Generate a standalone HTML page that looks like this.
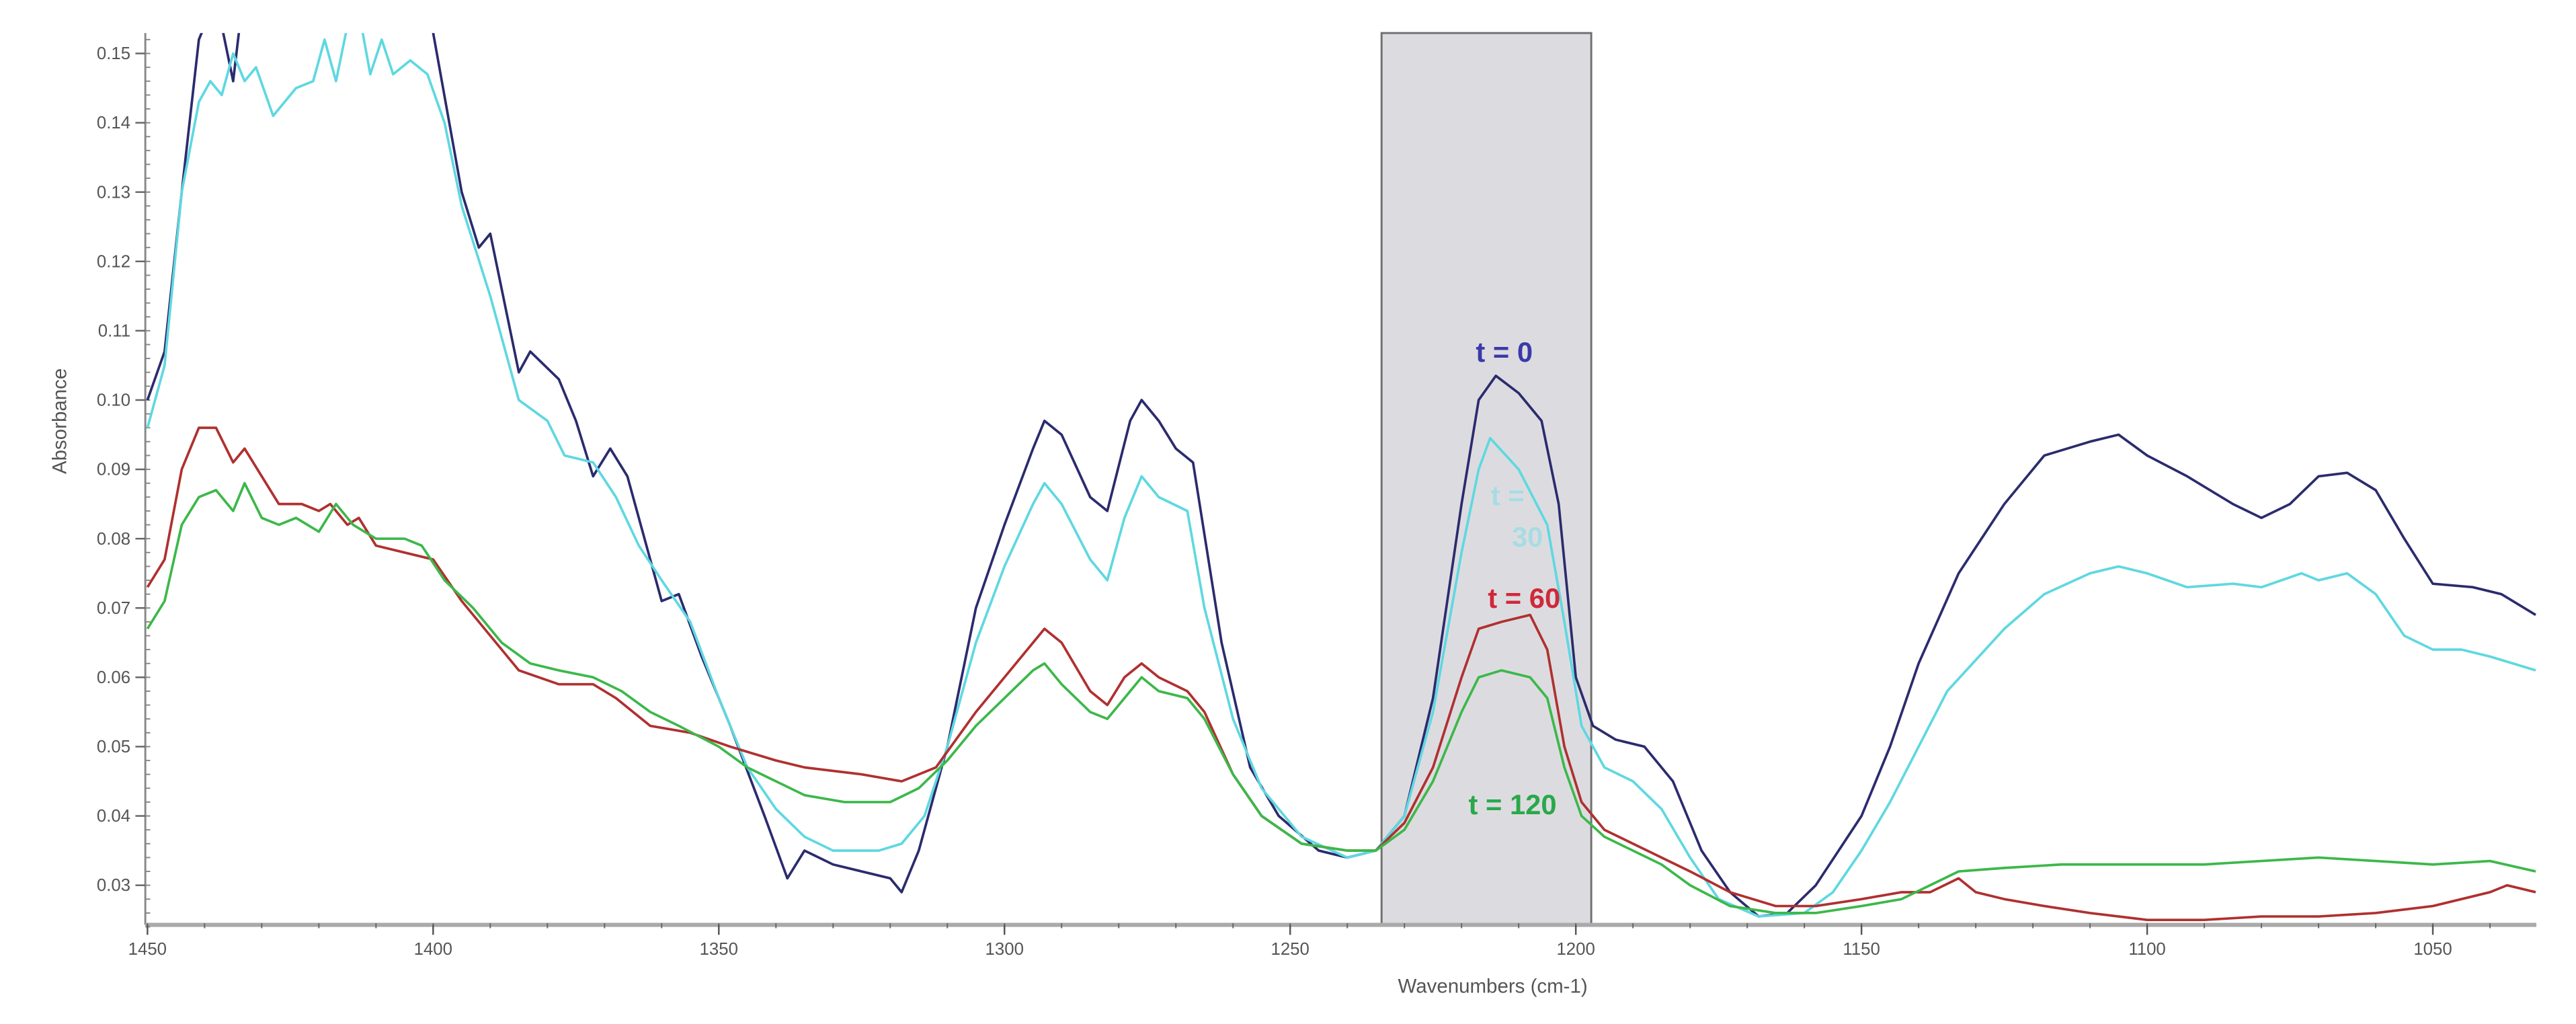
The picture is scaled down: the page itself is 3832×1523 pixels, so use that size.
<!DOCTYPE html>
<html><head><meta charset="utf-8"><style>
html,body{margin:0;padding:0;background:#fff;}
svg{display:block;}
text{font-family:"Liberation Sans",sans-serif;}
</style></head><body>
<svg id="chart" width="3832" height="1523" viewBox="0 0 1560 620" preserveAspectRatio="none" xmlns="http://www.w3.org/2000/svg">
<defs><clipPath id="plotclip"><rect x="88" y="20" width="1448" height="540"/></clipPath></defs>
<rect x="0" y="0" width="1560" height="620" fill="#fff"/>
<g id="band"></g>
<g id="axes"></g>
<g id="series" clip-path="url(#plotclip)"></g>
<g id="labels"></g>
</svg>
<script>
const xTicks=[1450,1400,1350,1300,1250,1200,1150,1100,1050];
const yTicks=[0.03,0.04,0.05,0.06,0.07,0.08,0.09,0.10,0.11,0.12,0.13,0.14,0.15];
const bandRange=[1234,1197.3];
const wn0=[1450,1447,1444,1441,1438,1435,1433,1420,1405,1400,1395,1392,1390,1387,1385,1383,1378,1375,1372,1369,1366,1362,1360,1357,1353,1348,1342,1338,1335,1330,1325,1320,1318,1315,1310,1305,1300,1295,1293,1290,1285,1282,1278,1276,1273,1270,1267,1262,1257,1252,1245,1240,1235,1230,1225,1220,1217,1214,1210,1206,1203,1200,1197,1193,1188,1183,1178,1173,1168,1163,1158,1150,1145,1140,1133,1125,1118,1110,1105,1100,1093,1085,1080,1075,1070,1065,1060,1055,1050,1043,1038,1032];
const abs0=[0.100,0.107,0.130,0.152,0.158,0.146,0.160,0.180,0.170,0.153,0.130,0.122,0.124,0.112,0.104,0.107,0.103,0.097,0.089,0.093,0.089,0.077,0.071,0.072,0.063,0.053,0.040,0.031,0.035,0.033,0.032,0.031,0.029,0.035,0.050,0.070,0.082,0.093,0.097,0.095,0.086,0.084,0.097,0.100,0.097,0.093,0.091,0.065,0.047,0.040,0.035,0.034,0.035,0.040,0.057,0.085,0.100,0.1035,0.101,0.097,0.085,0.060,0.053,0.051,0.050,0.045,0.035,0.029,0.0255,0.026,0.030,0.040,0.050,0.062,0.075,0.085,0.092,0.094,0.095,0.092,0.089,0.085,0.083,0.085,0.089,0.0895,0.087,0.080,0.0735,0.073,0.072,0.069];
const wn30=[1450,1447,1444,1441,1439,1437,1435,1433,1431,1428,1424,1421,1419,1417,1415,1413,1411,1409,1407,1404,1401,1398,1395,1390,1385,1380,1377,1372,1368,1364,1360,1355,1350,1345,1340,1335,1330,1322,1318,1314,1310,1305,1300,1295,1293,1290,1285,1282,1279,1276,1273,1268,1265,1260,1255,1248,1240,1235,1230,1225,1220,1217,1215,1210,1205,1202,1199,1195,1190,1185,1180,1175,1168,1160,1155,1150,1145,1140,1135,1125,1118,1110,1105,1100,1093,1085,1080,1073,1070,1065,1060,1055,1050,1045,1040,1032];
const abs30=[0.096,0.105,0.130,0.143,0.146,0.144,0.150,0.146,0.148,0.141,0.145,0.146,0.152,0.146,0.154,0.156,0.147,0.152,0.147,0.149,0.147,0.140,0.128,0.115,0.100,0.097,0.092,0.091,0.086,0.079,0.074,0.068,0.057,0.047,0.041,0.037,0.035,0.035,0.036,0.040,0.050,0.065,0.076,0.085,0.088,0.085,0.077,0.074,0.083,0.089,0.086,0.084,0.070,0.054,0.044,0.037,0.034,0.035,0.040,0.055,0.078,0.090,0.0945,0.090,0.082,0.068,0.053,0.047,0.045,0.041,0.034,0.028,0.0255,0.026,0.029,0.035,0.042,0.050,0.058,0.067,0.072,0.075,0.076,0.075,0.073,0.0735,0.073,0.075,0.074,0.075,0.072,0.066,0.064,0.064,0.063,0.061];
const wn60=[1450,1447,1444,1441,1438,1435,1433,1430,1427,1423,1420,1418,1415,1413,1410,1405,1400,1395,1390,1385,1378,1372,1368,1362,1355,1348,1340,1335,1325,1318,1312,1305,1300,1295,1293,1290,1285,1282,1279,1276,1273,1268,1265,1260,1255,1248,1240,1235,1230,1225,1220,1217,1213,1208,1205,1202,1199,1195,1190,1185,1180,1173,1165,1158,1150,1143,1138,1133,1130,1125,1118,1110,1100,1090,1080,1070,1060,1050,1040,1037,1032];
const abs60=[0.073,0.077,0.090,0.096,0.096,0.091,0.093,0.089,0.085,0.085,0.084,0.085,0.082,0.083,0.079,0.078,0.077,0.071,0.066,0.061,0.059,0.059,0.057,0.053,0.052,0.050,0.048,0.047,0.046,0.045,0.047,0.055,0.060,0.065,0.067,0.065,0.058,0.056,0.060,0.062,0.060,0.058,0.055,0.046,0.040,0.036,0.035,0.035,0.039,0.047,0.060,0.067,0.068,0.069,0.064,0.050,0.042,0.038,0.036,0.034,0.032,0.029,0.027,0.027,0.028,0.029,0.029,0.031,0.029,0.028,0.027,0.026,0.025,0.025,0.0255,0.0255,0.026,0.027,0.029,0.030,0.029];
const wn120=[1450,1447,1444,1441,1438,1435,1433,1430,1427,1424,1420,1417,1414,1410,1405,1402,1398,1393,1388,1383,1378,1372,1367,1362,1357,1350,1345,1340,1335,1328,1320,1315,1310,1305,1300,1295,1293,1290,1285,1282,1279,1276,1273,1268,1265,1260,1255,1248,1240,1235,1230,1225,1220,1217,1213,1208,1205,1202,1199,1195,1190,1185,1180,1173,1165,1158,1150,1143,1138,1133,1125,1115,1100,1090,1080,1070,1060,1050,1040,1032];
const abs120=[0.067,0.071,0.082,0.086,0.087,0.084,0.088,0.083,0.082,0.083,0.081,0.085,0.082,0.080,0.080,0.079,0.074,0.070,0.065,0.062,0.061,0.060,0.058,0.055,0.053,0.050,0.047,0.045,0.043,0.042,0.042,0.044,0.048,0.053,0.057,0.061,0.062,0.059,0.055,0.054,0.057,0.060,0.058,0.057,0.054,0.046,0.040,0.036,0.035,0.035,0.038,0.045,0.055,0.060,0.061,0.060,0.057,0.047,0.040,0.037,0.035,0.033,0.030,0.027,0.026,0.026,0.027,0.028,0.030,0.032,0.0325,0.033,0.033,0.033,0.0335,0.034,0.0335,0.033,0.0335,0.032];

const NS="http://www.w3.org/2000/svg";
const X0=89.3, PXU=3.46, YREF=536, PXY=4197;
function xs(w){return X0+(1450-w)*PXU;}
function ys(v){return YREF-(v-0.03)*PXY;}
function mk(tag,attrs,parent){const e=document.createElementNS(NS,tag);for(const k in attrs)e.setAttribute(k,attrs[k]);parent.appendChild(e);return e;}
const band=document.getElementById('band'),axes=document.getElementById('axes'),series=document.getElementById('series'),labels=document.getElementById('labels');
const PT=20,PB=560,PL=88,PR=1536;

const br=mk('rect',{x:xs(bandRange[0]),y:PT,width:xs(bandRange[1])-xs(bandRange[0]),height:PB-PT,fill:'#dcdce0',stroke:'#707070','stroke-width':1.2},band);



const ya=mk('line',{x1:PL,y1:PT,x2:PL,y2:PB,stroke:'#888','stroke-width':1.2},axes);


const xa=mk('line',{x1:PL,y1:PB,x2:PR,y2:PB,stroke:'#aaa','stroke-width':2.5},axes);


for(let v=0.024;v<=0.1531;v+=0.002){mk('line',{x1:PL,y1:ys(v),x2:PL+3,y2:ys(v),stroke:'#888','stroke-width':0.8},axes);}
for(let w=1450;w>=1034;w-=10){mk('line',{x1:xs(w),y1:PB-1,x2:xs(w),y2:PB+2,stroke:'#666','stroke-width':0.8},axes);}
yTicks.forEach(v=>{
  mk('line',{x1:PL-6,y1:ys(v),x2:PL,y2:ys(v),stroke:'#666','stroke-width':1},axes);
  const t=mk('text',{x:PL-9,y:ys(v)+3.5,'text-anchor':'end','font-size':10.5,fill:'#555'},axes);
  t.textContent=v.toFixed(2);
  
  
});
xTicks.forEach(w=>{
  mk('line',{x1:xs(w),y1:PB,x2:xs(w),y2:PB+6,stroke:'#555','stroke-width':1},axes);
  const t=mk('text',{x:xs(w),y:PB+18,'text-anchor':'middle','font-size':10.5,fill:'#555'},axes);
  t.textContent=String(w);
  
  
});
const yt=mk('text',{x:0,y:0,transform:'translate(40,255) rotate(-90)','text-anchor':'middle','font-size':12,fill:'#555'},labels);
yt.textContent='Absorbance';


const xt=mk('text',{x:904,y:601,'text-anchor':'middle','font-size':12,fill:'#555'},labels);
xt.textContent='Wavenumbers (cm-1)';



const defs=[[wn0,abs0,'#2b2b6e','series-t0'],[wn30,abs30,'#5fd8e0','series-t30'],[wn60,abs60,'#b03030','series-t60'],[wn120,abs120,'#3cb84a','series-t120']];
defs.forEach(([w,a,c,n])=>{
  const d=w.map((x,i)=>(i?'L':'M')+xs(x).toFixed(2)+' '+ys(a[i]).toFixed(2)).join(' ');
  const p=mk('path',{d:d,fill:'none',stroke:c,'stroke-width':1.5,'stroke-linejoin':'round'},series);
  
  
});
[['t = 0',911,219,'#3a3aa8','label-t0'],['t =',913,306,'#a8dce4','label-t30-a'],['30',925,331,'#a8dce4','label-t30-b'],['t = 60',923,368,'#d0283a','label-t60'],['t = 120',916,493,'#2aa84a','label-t120']].forEach(([s,x,y,c,n])=>{
  const t=mk('text',{x:x,y:y,'text-anchor':'middle','font-size':17,'font-weight':'bold',fill:c},labels);
  t.textContent=s;
  
  
});
</script>
</body></html>
